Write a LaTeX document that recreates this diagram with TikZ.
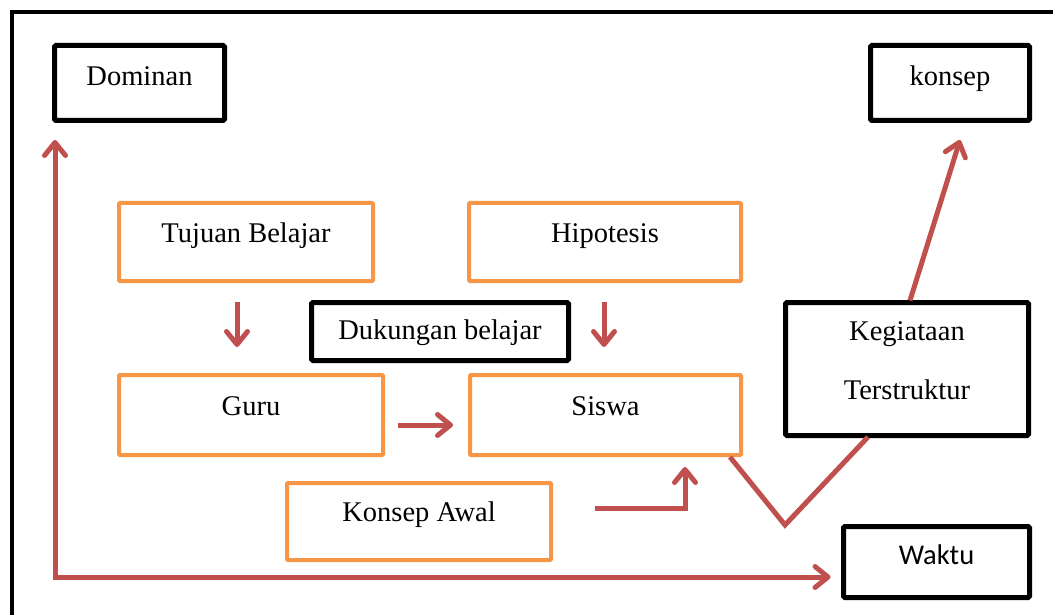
\documentclass[tikz,border=0pt]{standalone}
\usepackage{fontspec}
\setmainfont{Liberation Serif}
\newfontfamily\calibrifont{Carlito}
\usetikzlibrary{arrows.meta, calc}
\definecolor{boxorange}{HTML}{F79646}
\definecolor{arrowred}{HTML}{C0504D}

\begin{document}
\begin{tikzpicture}[
          x = 1pt, y = -1pt,
          > = {Straight Barb[length=13pt, width=21pt, line cap=round, line join=round]},
every node/.style = {font=\fontsize{28.5pt}{34pt}\selectfont, inner sep=0pt, outer sep=0pt},
       obox/.style = {rectangle, draw=boxorange, line width=4pt, rounded corners=1pt,
                      text height=19pt, text depth=19pt},
       kbox/.style = {rectangle, draw, line width=5pt, rounded corners=1.5pt,
                      text height=19pt, text depth=13pt},
       rarr/.style = {draw=arrowred, line width=5pt}
                        ]
\useasboundingbox (0,0) rectangle (1053,615);
\draw[line width=4.5pt] (12,12) rectangle (1090,650);
% kotak
\node (dom)   [kbox, minimum width=170pt, minimum height=75pt] at (139.5,83) {Dominan};
\node (kon)   [kbox, minimum width=159pt, minimum height=75pt] at (950,83) {konsep};
\node (tuj)   [obox, minimum width=254pt, minimum height=78pt] at (246,242) {Tujuan Belajar};
\node (hip)   [obox, minimum width=272pt, minimum height=78pt] at (605,242) {Hipotesis};
\node (duk)   [kbox, minimum width=257pt, minimum height=58pt, text depth=3pt] at (440,331.5) {Dukungan belajar};
\node (guru)  [obox, minimum width=264pt, minimum height=80pt] at (251,415) {Guru};
\node (sis)   [obox, minimum width=271pt, minimum height=80pt] at (605.5,415) {Siswa};
\node (awal)  [obox, minimum width=264pt, minimum height=77pt] at (419,521.5) {Konsep Awal};
\node (keg)   [kbox, minimum width=243pt, minimum height=133pt, align=center,
               font=\fontsize{28.5pt}{59pt}\selectfont, text height=78pt, text depth=18pt] at (907,369) {Kegiataan\\Terstruktur};
\node (waktu) [kbox, minimum width=186pt, minimum height=71pt, text height=18pt, text depth=14pt,
               font=\calibrifont\fontsize{28.5pt}{34pt}\selectfont] at (936.5,562) {Waktu};
\coordinate (v) at (785,525);
% panah
\draw[rarr, <->] ($(dom.south west)+(0.5,19.5)$) |- ($(waktu.west)+(-13,15)$);
\draw[rarr, ->] ($(tuj.south)+(-9,21)$) -- ($(guru.north)+(-14,-28)$);
\draw[rarr, ->] ($(hip.south)+(-1,21)$) -- ($(sis.north)+(-1.5,-28)$);
\draw[rarr, ->] ($(guru.east)+(15,10)$) -- ($(sis.west)+(-17,10)$);
\draw[rarr, ->] ($(awal.east)+(44,-13.5)$) -| ($(sis.south)+(79.5,12)$);
\draw[rarr] ($(sis.south east)+(-11,2)$) -- (v) -- ($(keg.south)+(-39,1.5)$);
\draw[rarr, ->] ($(keg.north)+(3,-2)$) -- ($(kon.south)+(10,19.5)$);
\end{tikzpicture}
\end{document}
